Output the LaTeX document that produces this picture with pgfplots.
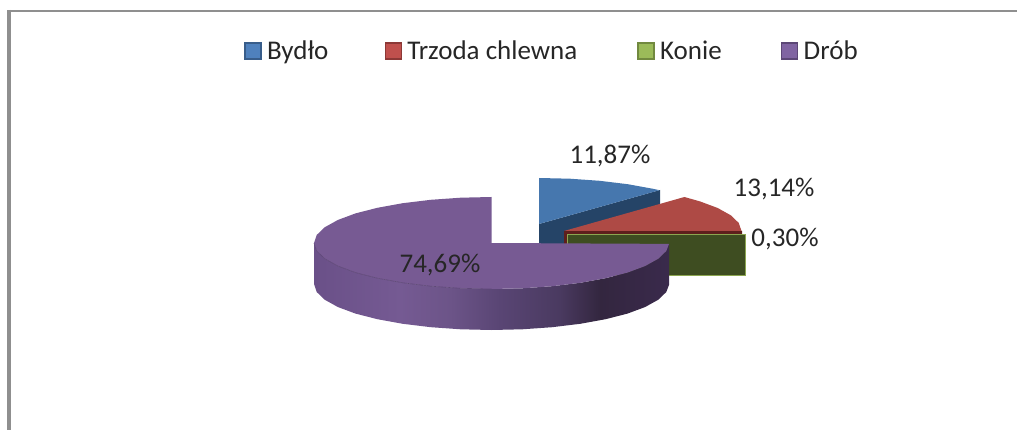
\documentclass[border=0pt]{standalone}
\usepackage{fontspec}
\setmainfont{Carlito}
\usepackage{pgfplots}
\pgfplotsset{compat=1.18}
\definecolor{txt}{HTML}{262626}
\definecolor{frame}{HTML}{8F8F8F}
\definecolor{bluetop}{HTML}{4677AE}
\definecolor{bluewall}{HTML}{254467}
\definecolor{redtop}{HTML}{AE4A45}
\definecolor{redwall}{HTML}{5E1F1C}
\definecolor{greenwall}{HTML}{3E4D21}
\definecolor{greenedge}{HTML}{8CA650}
\definecolor{purpletop}{HTML}{775A93}
\definecolor{purpleline}{HTML}{5F4878}
\definecolor{lgblue}{HTML}{4F81BD}
\definecolor{lgblueb}{HTML}{385D8A}
\definecolor{lgred}{HTML}{C0504D}
\definecolor{lgredb}{HTML}{8C3836}
\definecolor{lggreen}{HTML}{9BBB59}
\definecolor{lggreenb}{HTML}{71893F}
\definecolor{lgpurple}{HTML}{8064A2}
\definecolor{lgpurpleb}{HTML}{5C4776}
\definecolor{pw0}{HTML}{6A5088}
\definecolor{pw1}{HTML}{755A93}
\definecolor{pw2}{HTML}{6C5488}
\definecolor{pw3}{HTML}{594574}
\definecolor{pw4}{HTML}{4A3A60}
\definecolor{pw5}{HTML}{33263F}
\definecolor{pw6}{HTML}{3A2A4C}
\pgfdeclarehorizontalshading{purplewall}{100bp}{
  color(0bp)=(pw0);
  color(25bp)=(pw0);
  color(37.1bp)=(pw1);
  color(44.2bp)=(pw2);
  color(51.2bp)=(pw3);
  color(59.6bp)=(pw4);
  color(65.3bp)=(pw5);
  color(75bp)=(pw6);
  color(100bp)=(pw6)}
\pgfplotsset{
  swatch/.style n args={2}{legend image code/.code={
    \draw[fill=#1,draw=#2,line width=1.2pt] (0pt,-8pt) rectangle (16pt,8pt);}},
}
\begin{document}
\begin{tikzpicture}
\begin{axis}[
  scale only axis, width=1017pt, height=430pt,
  xmin=0, xmax=1017, ymin=0, ymax=430, y dir=reverse,
  hide axis,
  font=\fontsize{27}{30}\selectfont\color{txt},
  legend columns=4,
  legend cell align=left,
  legend style={at={(axis cs:552,51)}, anchor=center, draw=none, fill=none,
    font=\fontsize{27}{30}\selectfont\color{txt}, inner sep=0pt,
    /tikz/column 1/.style={column sep=3.5pt},
    /tikz/column 2/.style={column sep=54.2pt},
    /tikz/column 3/.style={column sep=3.5pt},
    /tikz/column 4/.style={column sep=58.2pt},
    /tikz/column 5/.style={column sep=3.5pt},
    /tikz/column 6/.style={column sep=57.2pt},
    /tikz/column 7/.style={column sep=3.5pt}},
]
% legend swatches
\addlegendimage{swatch={lgblue}{lgblueb}}
\addlegendentry{Bydło}
\addlegendimage{swatch={lgred}{lgredb}}
\addlegendentry{Trzoda chlewna}
\addlegendimage{swatch={lggreen}{lggreenb}}
\addlegendentry{Konie}
\addlegendimage{swatch={lgpurple}{lgpurpleb}}
\addlegendentry{Drób}

% page box
\path (axis cs:0,0) rectangle (axis cs:1017,430);

% outer frame
\addplot[forget plot, frame, line width=2pt] coordinates {(1017,11) (9,11)};
\addplot[forget plot, frame, line width=3.5pt] coordinates {(9,10) (9,430)};

% Bydlo 11,87
\addplot[forget plot, draw=none, fill=bluewall] coordinates {
  (539,224) (660,190) (660,235) (539,265)} -- cycle;
\addplot[forget plot, draw=none, fill=bluetop] coordinates {
  (539,224) (539,178) (569.8,178.7) (599.7,180.8) (627.75,184.2) (653.1,188.8) (659.4,190.2)} -- cycle;

% Trzoda chlewna 13,14
\addplot[forget plot, draw=none, fill=redwall] coordinates {
  (564,231) (742,231) (742,236) (567,236) (567,250) (564,250)} -- cycle;
\addplot[forget plot, draw=none, fill=redtop] coordinates {
  (564,231) (684.4,197) (700,201.4) (717.7,208) (730.8,215.3) (738.8,223) (741.5,231)} -- cycle;

% Konie 0,30
\addplot[forget plot, draw=greenedge, line width=1pt, fill=greenwall] coordinates {
  (567.5,235) (745,235) (745,276) (567.5,276)} -- cycle;

% Drob 74,69
\addplot[forget plot, draw=none, shading=purplewall, shading angle=0] coordinates {
  (314,243) (316.7,251) (324.7,258.7) (337.8,266) (355.5,272.6) (377.4,278.2) (402.75,282.8)
  (430.8,286.2) (460.7,288.3) (491.5,289) (522.3,288.3) (552.2,286.2) (580.25,282.8)
  (605.6,278.2) (627.5,272.6) (645.2,266) (658.3,258.7) (666.3,251) (669,243.9)
  (669,284.9) (666.3,292) (658.3,299.7) (645.2,307) (627.5,313.6) (605.6,319.2) (580.25,323.8)
  (552.2,327.2) (522.3,329.3) (491.5,330) (460.7,329.3) (430.8,327.2) (402.75,323.8)
  (377.4,319.2) (355.5,313.6) (337.8,307) (324.7,299.7) (316.7,292) (314,284)} -- cycle;
\addplot[forget plot, draw=none, fill=purpletop] coordinates {
  (491.5,243) (491.5,197) (460.7,197.7) (430.8,199.8) (402.75,203.2) (377.4,207.8) (355.5,213.4)
  (337.8,220) (324.7,227.3) (316.7,235) (314,243) (316.7,251) (324.7,258.7) (337.8,266)
  (355.5,272.6) (377.4,278.2) (402.75,282.8) (430.8,286.2) (460.7,288.3) (491.5,289)
  (522.3,288.3) (552.2,286.2) (580.25,282.8) (605.6,278.2) (627.5,272.6) (645.2,266)
  (658.3,258.7) (666.3,251) (669,243.9)} -- cycle;
\addplot[forget plot, purpleline, line width=0.6pt] coordinates {
  (314,243) (316.7,251) (324.7,258.7) (337.8,266) (355.5,272.6) (377.4,278.2) (402.75,282.8)
  (430.8,286.2) (460.7,288.3) (491.5,289)};

% data labels
\node at (axis cs:610,156.5) {11,87\%};
\node at (axis cs:774,189) {13,14\%};
\node at (axis cs:785,239) {0,30\%};
\node at (axis cs:440,265) {74,69\%};
\end{axis}
\end{tikzpicture}
\end{document}
